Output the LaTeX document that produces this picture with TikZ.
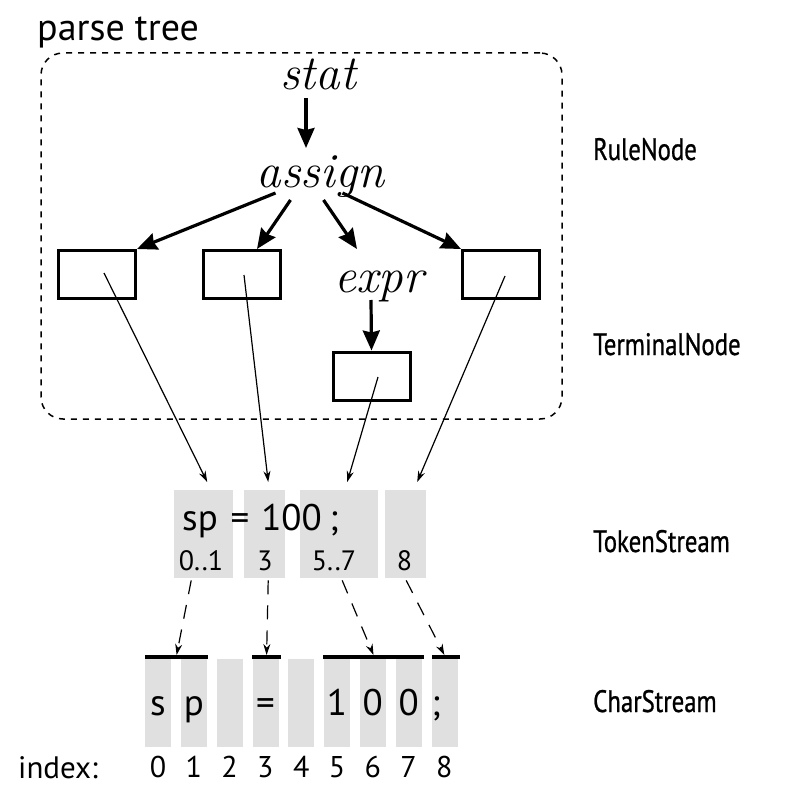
\documentclass[tikz,border=0pt]{standalone}
\usepackage{fontspec}
\usetikzlibrary{arrows.meta,calc}
\newfontfamily\mysans{PT Sans}
\newfontfamily\mycond[FakeStretch=0.8,FakeBold=0.8]{PT Sans}
\definecolor{tokgray}{RGB}{224,224,224}
\tikzset{
  rulelbl/.style={font=\fontsize{49}{52}\selectfont\itshape, inner sep=0pt, anchor=base},
  termbox/.style={draw, line width=3pt, minimum width=77pt, minimum height=48pt, inner sep=0pt},
  treearrow/.style={line width=3.2pt, -{Stealth[length=20pt,width=17pt,inset=2pt]}},
  ptr/.style={line width=1.2pt, -{Stealth[length=11pt,width=7pt]}},
  dptr/.style={line width=1.2pt, dash pattern=on 14pt off 11pt, -{Stealth[length=11pt,width=7pt]}},
  cell/.style={fill=tokgray, inner sep=0pt, anchor=north west},
  sidelbl/.style={font=\mycond\fontsize{31}{34}\selectfont, anchor=base west, inner sep=0pt},
  bigtxt/.style={font=\mysans\fontsize{37}{40}\selectfont, inner sep=0pt},
  midtxt/.style={font=\mysans\fontsize{30}{33}\selectfont, inner sep=0pt, anchor=base},
  smalltxt/.style={font=\mysans\fontsize{28}{31}\selectfont, inner sep=0pt, anchor=base},
  groupbox/.style={draw, line width=1.5pt, dash pattern=on 6pt off 6pt, rounded corners=22pt, inner sep=0pt},
  bar/.style={line width=3.5pt}
}
\begin{document}
\begin{tikzpicture}[x=1pt,y=-1pt]
\useasboundingbox (0,0) rectangle (804,810);

% parse tree group
\node[font=\mysans\fontsize{38}{42}\selectfont, anchor=base west, inner sep=0pt] (ptlabel) at (37,41) {parse tree};
\node[groupbox, minimum width=521pt, minimum height=366pt] (ptbox) at (301.5,236) {};

% rule nodes
\node[rulelbl] (stat) at (318,90) {stat};
\node[rulelbl] (assign) at (320.5,188) {assign};
\node[rulelbl] (expr) at (379,292) {expr};

% terminal nodes
\node[termbox] (box1) at (97,274.5) {};
\node[termbox] (box2) at (241.5,274.5) {};
\node[termbox] (box4) at (501,274.5) {};
\node[termbox] (box3) at (371.5,376) {};

% tree edges
\draw[treearrow] ($(stat.base)+(-12,8)$) -- ($(stat.base)+(-12,58)$);
\draw[treearrow] ($(assign.base)+(-45,5)$) -- (box1.north east);
\draw[treearrow] ($(assign.base)+(-30,12)$) -- ($(box2.north)+(15.5,0)$);
\draw[treearrow] ($(assign.base)+(3,12)$) -- ($(expr.base)+(-22,-43)$);
\draw[treearrow] ($(assign.base)+(22,5)$) -- (box4.north west);
\draw[treearrow] ($(expr.base)+(-8,8)$) -- (box3.north);

% token stream
\node[cell, minimum width=59pt, minimum height=88pt] (tok1) at (174,490) {};
\node[cell, minimum width=41pt, minimum height=88pt] (tok2) at (244,490) {};
\node[cell, minimum width=78pt, minimum height=88pt] (tok3) at (300,490) {};
\node[cell, minimum width=41pt, minimum height=88pt] (tok4) at (385,490) {};
\node[bigtxt, anchor=base west] (tsp) at (182,530) {sp};
\node[bigtxt, anchor=base] (teq) at (240,530) {=};
\node[bigtxt, anchor=base] (tnum) at (291.5,530) {100};
\node[bigtxt, anchor=base] (tsemi) at (334,530) {;};
\node[smalltxt] (ti1) at (201,570) {0..1};
\node[smalltxt] (ti2) at (265,570) {3};
\node[smalltxt] (ti3) at (334,570) {5..7};
\node[smalltxt] (ti4) at (404.5,570) {8};

% pointers from terminal nodes to tokens
\draw[ptr] ($(box1.center)+(7,-1.5)$) -- ($(tok1.north)+(3.5,-8)$);
\draw[ptr] ($(box2.center)+(2.5,0.5)$) -- ($(tok2.north)+(3.5,-8)$);
\draw[ptr] ($(box3.center)+(6.5,1)$) -- ($(tok3.north)+(8,-8)$);
\draw[ptr] ($(box4.center)+(4,1.5)$) -- ($(tok4.north)+(11.5,-8)$);

% char stream
\foreach \i/\ch in {0/s,1/p,2/{},3/=,4/{},5/1,6/0,7/0} {
  \node[cell, minimum width=26pt, minimum height=88pt] (c\i) at (145+35.8*\i,659) {};
  \node[bigtxt, anchor=base] (ct\i) at (158+35.8*\i,715) {\strut\ch};
}
\node[cell, minimum width=26pt, minimum height=88pt] (c8) at (431.4,659) {};
\node[bigtxt, anchor=base] (ct8) at (436,715) {;};
\foreach \i in {0,...,8} {
  \node[midtxt] (ix\i) at (158+35.8*\i,777) {\i};
}
\node[font=\mysans\fontsize{31}{34}\selectfont, anchor=base west, inner sep=0pt] (idxlbl) at (18,778) {index:};

% token bars
\draw[bar] ($(c0.north west)+(0,-2)$) -- coordinate[midway] (b1) ($(c1.north east)+(1,-2)$);
\draw[bar] ($(c3.north west)+(0,-2)$) -- coordinate[midway] (b2) ($(c3.north east)+(2,-2)$);
\draw[bar] ($(c5.north west)+(-1,-2)$) -- coordinate[midway] (b3) ($(c7.north east)+(2,-2)$);
\draw[bar] ($(c8.north west)+(1,-2)$) -- coordinate[midway] (b4) ($(c8.north east)+(2.5,-2)$);

% dashed pointers from tokens to chars
\draw[dptr] ($(tok1.south)+(-12.5,2)$) -- ($(b1)+(0,-2)$);
\draw[dptr] ($(tok2.south)+(3.5,2)$) -- ($(b2)+(0,-2)$);
\draw[dptr] ($(tok3.south)+(3,2)$) -- ($(b3)+(0,-2)$);
\draw[dptr] ($(tok4.south)+(0.5,2)$) -- ($(b4)+(-2,-2)$);

% side labels
\node[sidelbl] (lrule) at (593,160) {RuleNode};
\node[sidelbl] (lterm) at (593,355) {TerminalNode};
\node[sidelbl] (ltok) at (593,552) {TokenStream};
\node[sidelbl] (lchar) at (593,712) {CharStream};
\end{tikzpicture}
\end{document}
